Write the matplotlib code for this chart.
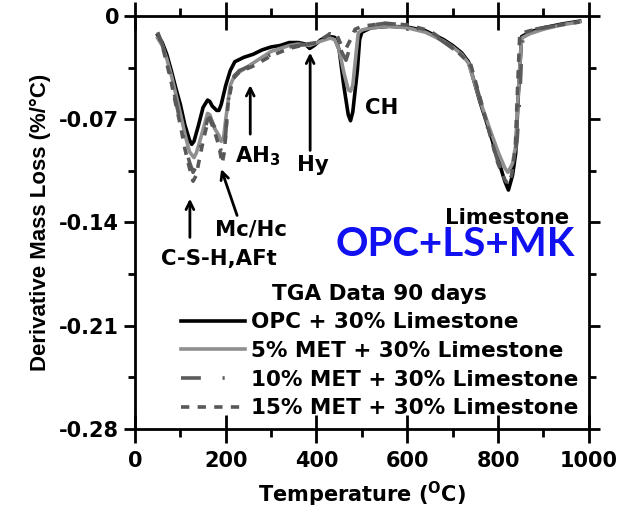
import matplotlib
matplotlib.use("Agg")
import matplotlib.pyplot as plt
from matplotlib.ticker import MultipleLocator

plt.rcParams['font.family'] = ['DejaVu Sans']
plt.rcParams['font.weight'] = 'bold'
plt.rcParams['axes.labelweight'] = 'bold'
plt.rcParams['mathtext.fontset'] = 'custom'
plt.rcParams['mathtext.rm'] = 'DejaVu Sans:bold'
plt.rcParams['mathtext.bf'] = 'DejaVu Sans:bold'
plt.rcParams['mathtext.default'] = 'bf'

# DTG curves, 90 days
t_opc = [50, 60, 70, 80, 90, 100, 110, 120, 125, 130, 140, 150, 160, 165, 170, 180, 185, 190,
         200, 210, 220, 240, 260, 280, 300, 320, 340, 360, 375, 385, 395, 410, 430, 440, 450,
         460, 470, 475, 480, 490, 495, 500, 520, 560, 600, 640, 680, 700, 720, 735, 760, 780,
         800, 815, 823, 832, 839, 845, 852, 870, 900, 940, 980]
d_opc = [-0.013, -0.018, -0.026, -0.037, -0.049, -0.060, -0.074, -0.084, -0.087, -0.085, -0.074,
         -0.062, -0.057, -0.058, -0.061, -0.064, -0.064, -0.060, -0.047, -0.037, -0.031, -0.028,
         -0.026, -0.023, -0.021, -0.020, -0.018, -0.018, -0.019, -0.022, -0.020, -0.016, -0.014,
         -0.0145, -0.023, -0.047, -0.067, -0.071, -0.065, -0.037, -0.016, -0.011, -0.008, -0.007,
         -0.0075, -0.010, -0.016, -0.020, -0.025, -0.031, -0.058, -0.077, -0.097, -0.112, -0.118,
         -0.108, -0.093, -0.052, -0.014, -0.011, -0.008, -0.0055, -0.0035]

t_met5 = [50, 60, 70, 80, 90, 100, 110, 120, 130, 135, 140, 150, 160, 165, 175, 185, 190, 195,
          200, 210, 220, 240, 260, 280, 300, 320, 340, 360, 385, 410, 430, 440, 450, 460, 470,
          475, 480, 487, 492, 500, 520, 560, 600, 640, 680, 700, 720, 735, 760, 780, 800, 815,
          822, 832, 839, 845, 852, 870, 900, 940, 980]
d_met5 = [-0.015, -0.020, -0.029, -0.040, -0.053, -0.066, -0.080, -0.092, -0.096, -0.093, -0.088,
          -0.077, -0.066, -0.067, -0.076, -0.081, -0.085, -0.083, -0.070, -0.047, -0.040, -0.036,
          -0.032, -0.028, -0.024, -0.022, -0.020, -0.019, -0.020, -0.017, -0.015, -0.016, -0.023,
          -0.038, -0.050, -0.051, -0.047, -0.026, -0.0115, -0.0095, -0.008, -0.007, -0.008,
          -0.011, -0.017, -0.021, -0.026, -0.032, -0.057, -0.075, -0.092, -0.103, -0.106, -0.100,
          -0.088, -0.050, -0.015, -0.012, -0.009, -0.006, -0.004]

t_met10 = [50, 60, 70, 80, 90, 100, 110, 120, 128, 135, 145, 160, 165, 175, 185, 192, 198, 205,
           215, 230, 260, 300, 340, 380, 400, 430, 445, 455, 465, 475, 485, 500, 550, 600, 650,
           700, 740, 760, 780, 800, 815, 822, 832, 842, 848, 853, 858, 900, 940, 980]
d_met10 = [-0.011, -0.019, -0.030, -0.043, -0.058, -0.072, -0.087, -0.099, -0.106, -0.102, -0.088,
           -0.070, -0.069, -0.075, -0.084, -0.095, -0.088, -0.058, -0.042, -0.037, -0.033, -0.026,
           -0.021, -0.019, -0.017, -0.012, -0.014, -0.024, -0.030, -0.020, -0.010, -0.007, -0.005,
           -0.006, -0.011, -0.022, -0.034, -0.056, -0.079, -0.099, -0.108, -0.110, -0.104, -0.085,
           -0.055, -0.020, -0.010, -0.008, -0.006, -0.004]

t_met15 = [50, 60, 70, 80, 90, 100, 110, 120, 128, 135, 140, 150, 160, 165, 175, 185, 192, 197,
           205, 215, 230, 260, 300, 340, 380, 400, 430, 445, 455, 465, 475, 485, 500, 550, 600,
           650, 700, 740, 760, 780, 800, 815, 822, 830, 838, 843, 848, 870, 900, 940, 980]
d_met15 = [-0.012, -0.020, -0.032, -0.045, -0.060, -0.074, -0.090, -0.103, -0.112, -0.108, -0.100,
           -0.085, -0.072, -0.070, -0.078, -0.088, -0.100, -0.092, -0.060, -0.043, -0.038, -0.034,
           -0.027, -0.022, -0.019, -0.018, -0.012, -0.013, -0.020, -0.022, -0.016, -0.009, -0.007,
           -0.005, -0.006, -0.010, -0.021, -0.033, -0.055, -0.078, -0.100, -0.111, -0.114, -0.108,
           -0.090, -0.050, -0.012, -0.010, -0.008, -0.006, -0.004]

labels = ["OPC + 30% Limestone", "5% MET + 30% Limestone",
          "10% MET + 30% Limestone", "15% MET + 30% Limestone"]

fig = plt.figure(figsize=(6.27, 5.11), dpi=100)
ax = fig.add_axes([0.2153, 0.1605, 0.7237, 0.8082])

ax.plot(t_opc, d_opc, color="black", lw=2.6, label=labels[0])
ax.plot(t_met5, d_met5, color="#8f8f8f", lw=2.6, label=labels[1])
ax.plot(t_met10, d_met10, color="#5c5c5c", lw=2.6, dashes=(5.5, 6, 0.6, 5.8), label=labels[2])
ax.plot(t_met15, d_met15, color="#585858", lw=2.6, dashes=(2.3, 2.3), label=labels[3])

ax.set_xlim(0, 1000)
ax.set_ylim(-0.28, 0)
ax.xaxis.set_major_locator(MultipleLocator(200))
ax.xaxis.set_minor_locator(MultipleLocator(100))
ax.set_yticks([-0.28, -0.21, -0.14, -0.07, 0])
ax.set_yticklabels(["-0.28", "-0.21", "-0.14", "-0.07", "0"])
ax.yaxis.set_minor_locator(MultipleLocator(0.035))
ax.tick_params(axis="both", labelsize=15, width=2, top=True, right=True)
ax.tick_params(axis="x", which="major", direction="inout", length=20, pad=6)
ax.tick_params(axis="x", which="minor", direction="out", length=6, width=2, top=True)
ax.tick_params(axis="y", which="major", direction="out", length=8)
ax.tick_params(axis="y", which="minor", direction="out", length=5, width=2, right=True)
for s in ax.spines.values():
    s.set_linewidth(2)

ax.set_xlabel(r"Temperature ($^{O}$C)", fontsize=15, labelpad=6)
ax.set_ylabel("Derivative Mass Loss (%/°C)", fontsize=16, labelpad=6,
              family="Liberation Sans")

# peak labels and their arrows
arrow = dict(arrowstyle="->", color="black", lw=2, mutation_scale=14)
fs = 15.3
ax.annotate("", xy=(121, -0.122), xytext=(121, -0.152), arrowprops=arrow)
ax.text(185, -0.165, "C-S-H,AFt", fontsize=fs, ha="center", va="center")
ax.annotate("", xy=(188, -0.102), xytext=(227, -0.137), arrowprops=arrow)
ax.text(256, -0.145, "Mc/Hc", fontsize=fs, ha="center", va="center")
ax.annotate("", xy=(254, -0.045), xytext=(254, -0.082), arrowprops=arrow)
ax.text(271, -0.095, r"AH$_{3}$", fontsize=fs, ha="center", va="center")
ax.annotate("", xy=(386, -0.023), xytext=(386, -0.093), arrowprops=arrow)
ax.text(393, -0.101, "Hy", fontsize=fs, ha="center", va="center")
ax.text(543, -0.0624, "CH", fontsize=fs, ha="center", va="center")
ax.text(819, -0.137, "Limestone", fontsize=fs, ha="center", va="center")
ax.text(706, -0.155, "OPC+LS+MK", fontsize=29, color="#1010f0", ha="center", va="center",
        family="Lato", fontweight="bold")

leg = ax.legend(loc="lower right", bbox_to_anchor=(1.0, 0.0), frameon=False, fontsize=15.5,
                title="TGA Data 90 days", title_fontsize=15.5, handlelength=3.0,
                handletextpad=0.25, labelspacing=0.4, borderpad=0.2, borderaxespad=0.3)

fig.savefig("out.png", dpi=100)
